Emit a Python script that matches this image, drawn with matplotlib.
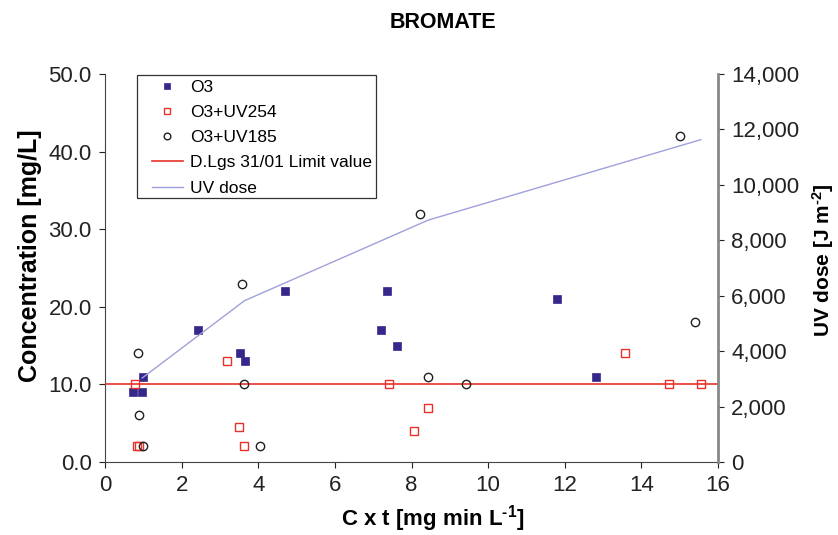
import matplotlib
matplotlib.use("Agg")
import matplotlib.pyplot as plt
from matplotlib.ticker import FuncFormatter
from matplotlib.patches import Rectangle

plt.rcParams['font.family'] = ['Liberation Sans', 'DejaVu Sans']
plt.rcParams['mathtext.fontset'] = 'custom'
plt.rcParams['mathtext.rm'] = 'Liberation Sans:bold'
plt.rcParams['mathtext.bf'] = 'Liberation Sans:bold'
plt.rcParams['mathtext.it'] = 'Liberation Sans:bold'

# Data
o3_x = [0.73, 0.96, 0.98, 2.44, 3.52, 3.66, 4.71, 7.21, 7.36, 7.62, 11.81, 12.82]
o3_y = [9, 9, 11, 17, 14, 13, 22, 17, 22, 15, 21, 11]

uv254_x = [0.78, 0.83, 0.88, 3.19, 3.49, 3.63, 7.42, 8.06, 8.43, 13.58, 14.71, 15.55]
uv254_y = [10, 2, 2, 13, 4.5, 2, 10, 4, 7, 14, 10, 10]

uv185_x = [0.86, 0.88, 0.98, 3.58, 3.64, 4.05, 8.23, 8.42, 9.41, 15.01, 15.40]
uv185_y = [14, 6, 2, 23, 10, 2, 32, 11, 10, 42, 18]

dose_x = [0.97, 3.64, 8.44, 15.55]
dose_y = [3030, 5820, 8730, 11630]

limit_value = 10.0

W, H = 838, 535
fig = plt.figure(figsize=(W/100, H/100), dpi=100)
ax = fig.add_axes([105/W, 1-462/H, (718-105)/W, (462-74)/H])
ax2 = ax.twinx()

navy = '#35288a'
red = '#e6322a'
lav = '#a0a0dc'

l1, = ax.plot(o3_x, o3_y, 's', color=navy, markersize=6, markeredgewidth=0.5, label='O3', zorder=5)
l2, = ax.plot(uv254_x, uv254_y, 's', mfc='none', mec=red, markersize=6, markeredgewidth=1.0, label='O3+UV254', zorder=5)
l3, = ax.plot(uv185_x, uv185_y, 'o', mfc='none', mec='#202020', markersize=6, markeredgewidth=1.0, label='O3+UV185', zorder=5)
l4 = ax.axhline(limit_value, color=red, lw=1.2, label='D.Lgs 31/01 Limit value', zorder=3)
l5, = ax2.plot(dose_x, dose_y, '-', color=lav, lw=1.0, label='UV dose')

ax.set_xlim(0, 16)
ax.set_ylim(0, 50)
ax2.set_ylim(0, 14000)
ax.set_xticks(range(0, 17, 2))
ax.set_yticks([0, 10, 20, 30, 40, 50])
ax.yaxis.set_major_formatter(FuncFormatter(lambda v, p: f"{v:.1f}"))
ax2.set_yticks(range(0, 14001, 2000))
ax2.yaxis.set_major_formatter(FuncFormatter(lambda v, p: f"{int(v):,}"))

for a in (ax, ax2):
    a.tick_params(direction='out', length=4.5, width=0.8, labelsize=16, colors='#222222', pad=5)
ax.spines['top'].set_visible(False)
ax2.spines['top'].set_visible(False)
ax.spines['left'].set_color('#444444')
ax.spines['bottom'].set_color('#444444')
ax2.spines['left'].set_visible(False)
ax2.spines['bottom'].set_visible(False)
ax2.spines['right'].set_color('#888888')
ax2.spines['right'].set_linewidth(2)
ax.spines['right'].set_visible(False)

fig.text(443/W, 1-22/H, 'BROMATE', fontsize=15.5, fontweight='bold', ha='center', va='center')
ax.set_xlabel('C x t [mg min L$^{\\text{-1}}$]', fontsize=16, fontweight='bold')
ax.xaxis.set_label_coords((433-105)/613, (462-503)/388)
ax.set_ylabel('Concentration [mg/L]', fontsize=18, fontweight='bold')
ax.yaxis.set_label_coords((42-105)/613, (462-256)/388)
ax2.set_ylabel('UV dose [J m$^{\\text{-2}}$]', fontsize=15, fontweight='bold')
ax2.yaxis.set_label_coords((810-105)/613, (462-260)/388)

leg = ax.legend(handles=[l1, l2, l3, l4, l5], loc='upper left',
                bbox_to_anchor=(149/W, 1-77/H), bbox_transform=fig.transFigure,
                fontsize=12.5, frameon=False, borderpad=0.15, borderaxespad=0,
                handlelength=1.8, handletextpad=0.4, markerscale=0.8, labelspacing=0.58)
fig.patches.append(Rectangle((137/W, 1-198/H), (376-137)/W, (198-75)/H,
                             transform=fig.transFigure, fill=False,
                             edgecolor='#333333', linewidth=0.9))

fig.savefig('out.png', dpi=100)
